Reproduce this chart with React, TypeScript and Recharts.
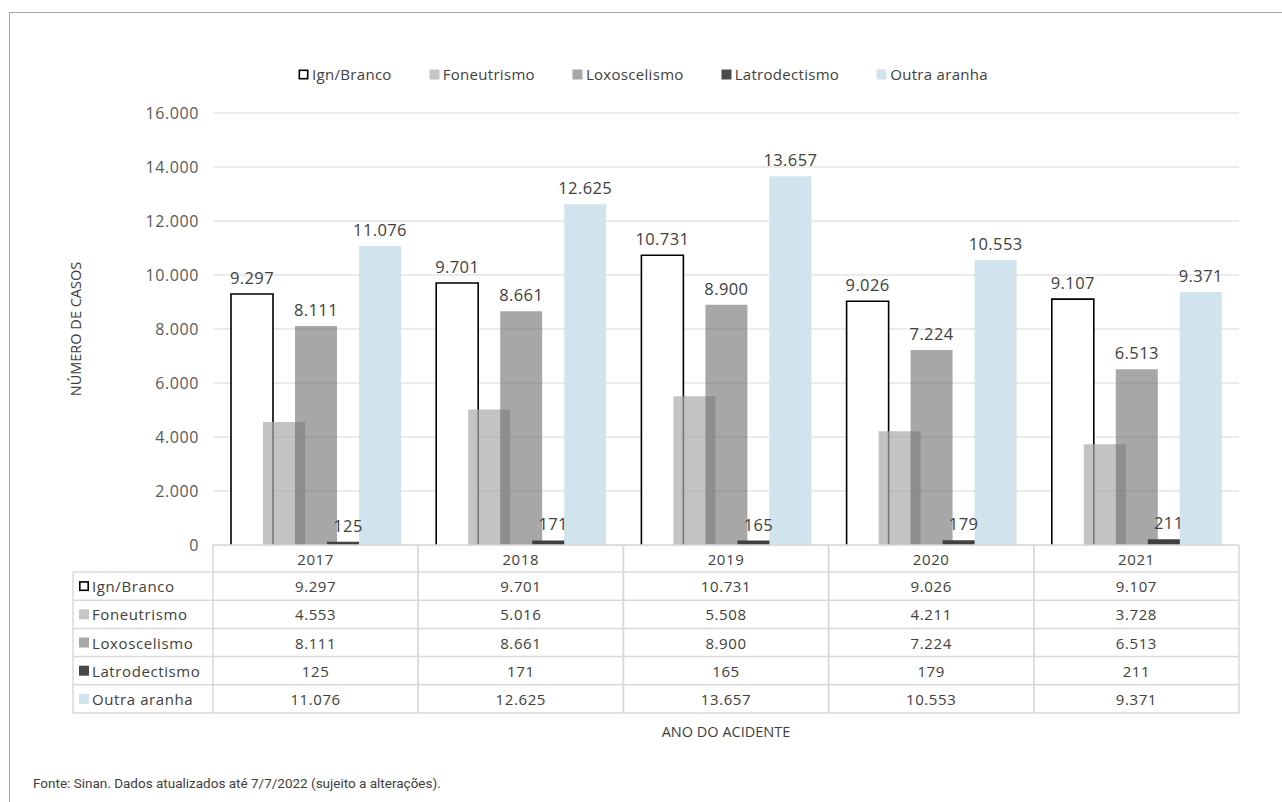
import React from 'react';
import { Bar, BarChart, CartesianGrid, LabelList, XAxis, YAxis } from 'recharts';

const years = ['2017', '2018', '2019', '2020', '2021'];
const ignBranco = [9297, 9701, 10731, 9026, 9107];
const foneutrismo = [4553, 5016, 5508, 4211, 3728];
const loxoscelismo = [8111, 8661, 8900, 7224, 6513];
const latrodectismo = [125, 171, 165, 179, 211];
const outraAranha = [11076, 12625, 13657, 10553, 9371];
const yTicks = [0, 2000, 4000, 6000, 8000, 10000, 12000, 14000, 16000];

const series = [
  { key: 'ign', name: 'Ign/Branco', values: ignBranco, fill: '#ffffff', opacity: 1, key_: '#ffffff', labels: true },
  { key: 'fone', name: 'Foneutrismo', values: foneutrismo, fill: 'rgb(170,170,170)', opacity: 0.7, key_: '#c6c6c6', labels: false },
  { key: 'loxo', name: 'Loxoscelismo', values: loxoscelismo, fill: 'rgb(103,103,103)', opacity: 0.58, key_: '#a7a7a7', labels: true },
  { key: 'latro', name: 'Latrodectismo', values: latrodectismo, fill: '#404040', opacity: 1, key_: '#4a4a4a', labels: true },
  { key: 'outra', name: 'Outra aranha', values: outraAranha, fill: '#d1e3ec', opacity: 1, key_: '#d1e3ec', labels: true },
];

const chartData = years.map((year, i) => {
  const row: any = { year };
  series.forEach((s) => { row[s.key] = s.values[i]; });
  return row;
});

const W = 1282;
const H = 802;
const PLOT_LEFT = 213;
const PLOT_RIGHT = 1239;
const PLOT_TOP = 113;
const PLOT_BOTTOM = 545;
const COL_W = (PLOT_RIGHT - PLOT_LEFT) / years.length;
const HEADER_H = 27;
const ROW_H = 28.2;
const HEAD_COL_W = 140;
const GRID = '#d9d9d9';
const TEXT = '#404040';
const FONT = "'Open Sans', 'Noto Sans', sans-serif";

const fmt = (n: number) => String(n).replace(/\B(?=(\d{3})+(?!\d))/g, '.');

function IgnShape(props: any) {
  const { x, y, width, height } = props;
  if (height <= 0) return null;
  return (
    <g>
      <rect x={x} y={y} width={width} height={height} fill="#ffffff" />
      <path d={`M${x},${y + height} L${x},${y} L${x + width},${y} L${x + width},${y + height}`}
        fill="none" stroke="#000000" strokeWidth={1.6} />
    </g>
  );
}

function KeyBox({ x, y, s }: { x: number; y: number; s: typeof series[number] }) {
  return s.key === 'ign'
    ? <rect x={x + 0.8} y={y + 0.8} width={8.4} height={8.4} fill="#fff" stroke="#000" strokeWidth={1.6} />
    : <rect x={x} y={y} width={10} height={10} fill={s.key_} />;
}

function TableColumn(props: any) {
  const { x, y, payload } = props;
  const i = years.indexOf(payload.value);
  const left = x - COL_W / 2;
  const right = x + COL_W / 2;
  const rowsTop = y + HEADER_H;
  const bottom = rowsTop + ROW_H * series.length;
  const txt = { fontFamily: FONT, fontSize: 15, fill: TEXT, letterSpacing: 0.6 };
  return (
    <g>
      <line x1={left} x2={right} y1={y} y2={y} stroke={GRID} strokeWidth={1.5} />
      <line x1={left} x2={left} y1={y} y2={bottom} stroke={GRID} strokeWidth={1.5} />
      <line x1={right} x2={right} y1={y} y2={bottom} stroke={GRID} strokeWidth={1.5} />
      <text x={x} y={y + HEADER_H / 2} textAnchor="middle" dominantBaseline="central" {...txt}>{payload.value}</text>
      {series.map((s, r) => {
        const top = rowsTop + ROW_H * r;
        return (
          <g key={s.key}>
            <line x1={left} x2={right} y1={top} y2={top} stroke={GRID} strokeWidth={1.5} />
            <text x={x} y={top + ROW_H / 2} textAnchor="middle" dominantBaseline="central" {...txt}>{fmt(s.values[i])}</text>
          </g>
        );
      })}
      <line x1={left} x2={right} y1={bottom} y2={bottom} stroke={GRID} strokeWidth={1.5} />
      {i === 0 && (
        <g>
          <line x1={left - HEAD_COL_W} x2={left - HEAD_COL_W} y1={rowsTop} y2={bottom} stroke={GRID} strokeWidth={1.5} />
          {series.map((s, r) => {
            const top = rowsTop + ROW_H * r;
            return (
              <g key={s.key}>
                <line x1={left - HEAD_COL_W} x2={left} y1={top} y2={top} stroke={GRID} strokeWidth={1.5} />
                <KeyBox x={left - HEAD_COL_W + 6} y={top + ROW_H / 2 - 5} s={s} />
                <text x={left - HEAD_COL_W + 19} y={top + ROW_H / 2} dominantBaseline="central" {...txt}>{s.name}</text>
              </g>
            );
          })}
          <line x1={left - HEAD_COL_W} x2={left} y1={bottom} y2={bottom} stroke={GRID} strokeWidth={1.5} />
        </g>
      )}
    </g>
  );
}

function YTitle(props: any) {
  const vb = props.viewBox || {};
  const cy = (vb.y ?? PLOT_TOP) + (vb.height ?? PLOT_BOTTOM - PLOT_TOP) / 2;
  return (
    <text x={75} y={cy} transform={`rotate(-90, 75, ${cy})`} textAnchor="middle" dominantBaseline="central"
      fontFamily={FONT} fontSize={14.5} fill={TEXT}>NÚMERO DE CASOS</text>
  );
}

function XTitle(props: any) {
  const vb = props.viewBox || {};
  const cx = (vb.x ?? PLOT_LEFT) + (vb.width ?? PLOT_RIGHT - PLOT_LEFT) / 2;
  return (
    <text x={cx} y={731} textAnchor="middle" dominantBaseline="central" fontFamily={FONT} fontSize={14.5} fill={TEXT}>
      ANO DO ACIDENTE
    </text>
  );
}

export default function App() {
  return (
    <div style={{ position: 'absolute', left: 0, top: 0, width: W, height: H, background: '#fff', overflow: 'hidden' }}>
      <div style={{ position: 'absolute', left: 9, top: 12, right: 0, bottom: 0, borderLeft: '1.5px solid #a9a9a9', borderTop: '1.5px solid #a9a9a9' }} />
      <div style={{
        position: 'absolute', top: 64, left: 0, width: W, display: 'flex', justifyContent: 'center', gap: 37,
        fontFamily: FONT, fontSize: 15, color: TEXT, letterSpacing: 0.3, paddingLeft: 2,
      }}>
        {series.map((s) => (
          <div key={s.key} style={{ display: 'flex', alignItems: 'center', gap: 3 }}>
            <svg width={11} height={11}><KeyBox x={0.5} y={0.5} s={s} /></svg>
            <span>{s.name}</span>
          </div>
        ))}
      </div>
      <BarChart
        width={W}
        height={H}
        data={chartData}
        barGap={-10}
        margin={{ top: PLOT_TOP, right: W - PLOT_RIGHT, left: PLOT_LEFT - 60, bottom: H - PLOT_BOTTOM - 168 }}
      >
        <CartesianGrid vertical={false} stroke="#e6e6e6" strokeWidth={1.5} />
        <XAxis
          dataKey="year"
          axisLine={false}
          tickLine={false}
          tickSize={0}
          tickMargin={0}
          height={168}
          interval={0}
          tick={<TableColumn />}
          label={<XTitle />}
        />
        <YAxis
          width={60}
          domain={[0, 16000]}
          ticks={yTicks}
          axisLine={false}
          tickLine={false}
          tickSize={0}
          tickMargin={14}
          tickFormatter={fmt}
          tick={{ fontFamily: FONT, fontSize: 16, fill: '#595959', letterSpacing: 0.6 }}
          label={<YTitle />}
        />
        {series.map((s) => (
          <Bar
            key={s.key}
            dataKey={s.key}
            name={s.name}
            barSize={42}
            fill={s.fill}
            fillOpacity={s.opacity}
            shape={s.key === 'ign' ? <IgnShape /> : undefined}
            isAnimationActive={false}
          >
            {s.labels && (
              <LabelList dataKey={s.key} position="top" offset={10} formatter={(v: any) => fmt(Number(v))}
                style={{ fontFamily: FONT, fontSize: 16.5, fill: TEXT, letterSpacing: 0.4 }} />
            )}
          </Bar>
        ))}
      </BarChart>
      <div style={{
        position: 'absolute', left: 33, top: 775, fontFamily: "'Liberation Sans Narrow', Roboto, sans-serif",
        fontSize: 13.5, color: TEXT,
      }}>
        Fonte: Sinan. Dados atualizados até 7/7/2022 (sujeito a alterações).
      </div>
    </div>
  );
}
